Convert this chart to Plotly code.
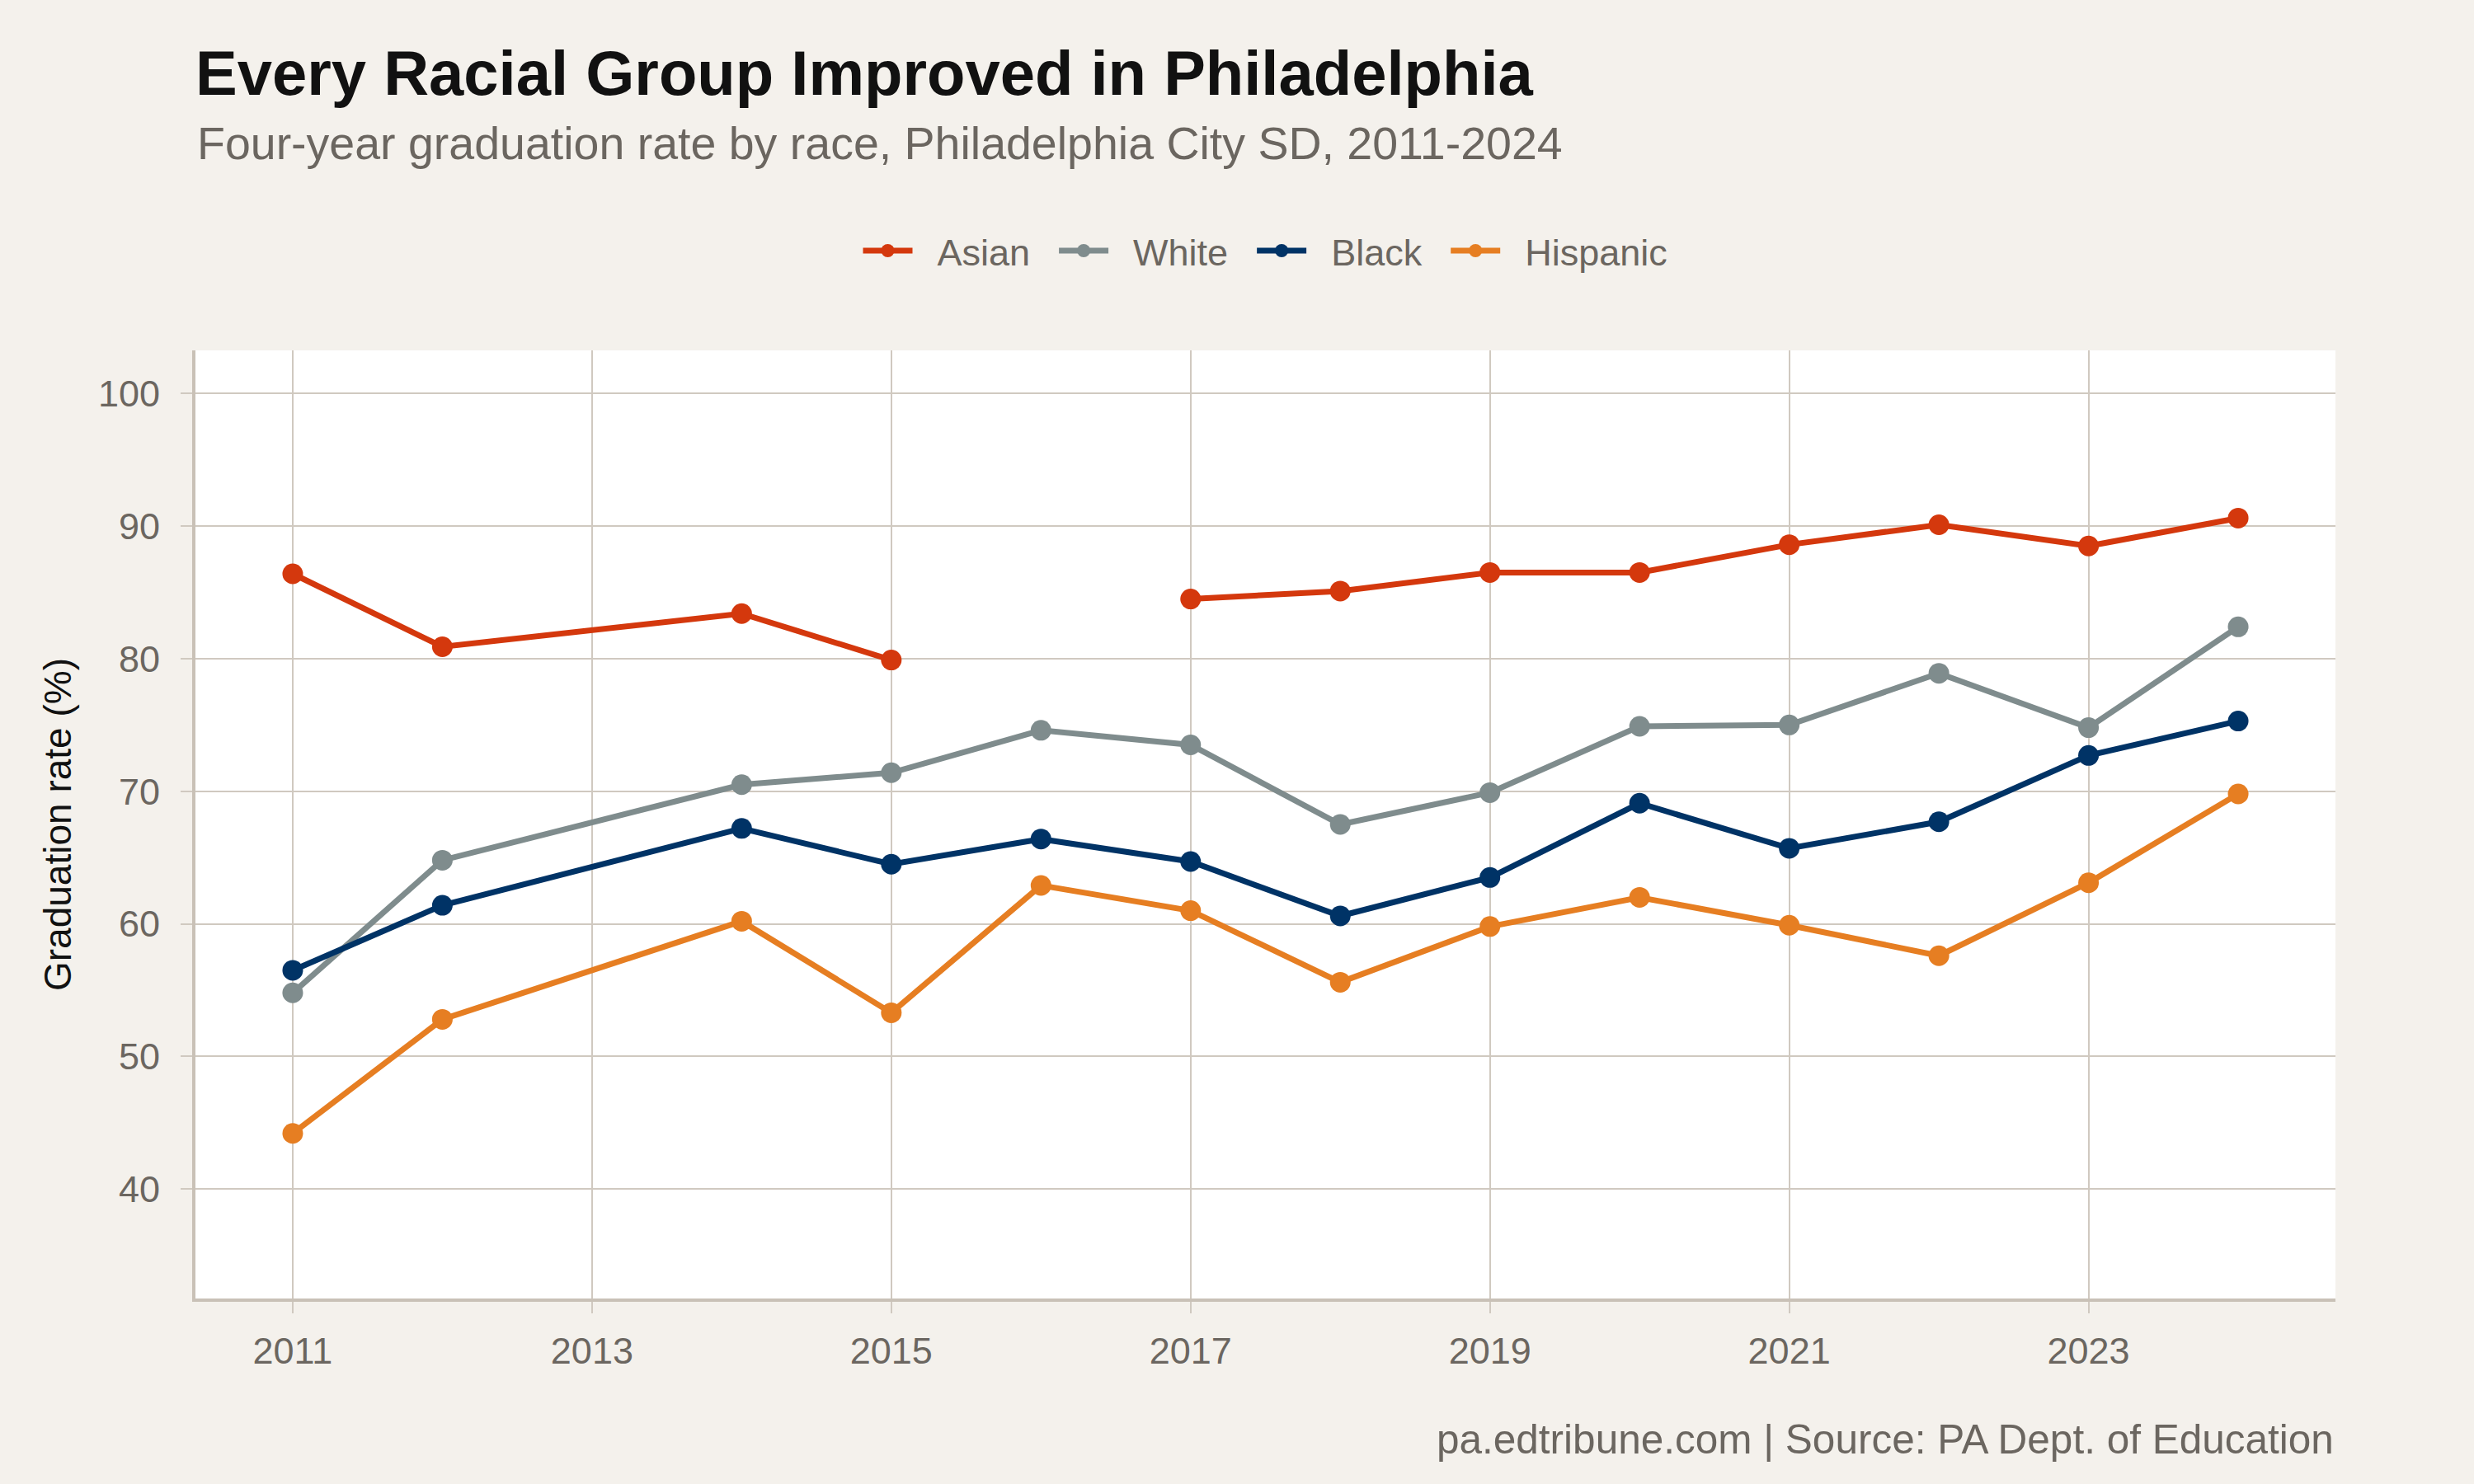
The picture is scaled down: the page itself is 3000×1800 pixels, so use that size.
import plotly.graph_objects as go

years = [2011, 2012, 2014, 2015, 2016, 2017, 2018, 2019, 2020, 2021, 2022, 2023, 2024]
asian = [86.4, 80.9, 83.4, 79.9, None, 84.5, 85.1, 86.5, 86.5, 88.6, 90.1, 88.5, 90.6]
white = [54.8, 64.8, 70.5, 71.4, 74.6, 73.5, 67.5, 69.9, 74.9, 75.0, 78.9, 74.8, 82.4]
black = [56.5, 61.4, 67.2, 64.5, 66.4, 64.7, 60.6, 63.5, 69.1, 65.7, 67.7, 72.7, 75.3]
hispanic = [44.2, 52.8, 60.2, 53.3, 62.9, 61.0, 55.6, 59.8, 62.0, 59.9, 57.6, 63.1, 69.8]

series = [
    ("Asian", asian, "#D4380D"),
    ("White", white, "#7F8C8D"),
    ("Black", black, "#003366"),
    ("Hispanic", hispanic, "#E67E22"),
]

title = "Every Racial Group Improved in Philadelphia"
subtitle = "Four-year graduation rate by race, Philadelphia City SD, 2011-2024"
caption = "pa.edtribune.com | Source: PA Dept. of Education"

FONT = "Liberation Sans, Arial, Helvetica, sans-serif"
BG = "#F4F1EC"
GRID = "#D0C9C0"
GRAY = "#6B6660"

fig = go.Figure()
for i, (name, vals, color) in enumerate(series):
    pad_after = "&nbsp;&nbsp;" if i < len(series) - 1 else ""
    fig.add_trace(go.Scatter(
        x=years, y=vals, name="&nbsp;&nbsp;" + name + pad_after, mode="lines+markers",
        line=dict(color=color, width=7),
        marker=dict(color=color, size=25),
        connectgaps=False,
    ))

fig.update_layout(
    width=3000, height=1800,
    paper_bgcolor=BG, plot_bgcolor="white",
    margin=dict(l=237, r=168, t=425, b=225),
    font=dict(family=FONT, size=45, color=GRAY),
    title=dict(text="<b>" + title + "</b>", x=237/3000, xanchor="left", xref="container",
               y=1 - 88/1800, yanchor="middle", yref="container",
               font=dict(size=76, color="#111111", family=FONT)),
    legend=dict(orientation="h", x=0.5, xanchor="center", y=1.105, yanchor="middle",
                font=dict(size=45, color=GRAY), bgcolor="rgba(0,0,0,0)",
                itemwidth=60, tracegroupgap=0),
    showlegend=True,
    annotations=[
        dict(text=subtitle, x=0, xref="paper", xanchor="left", y=1 + (425 - 174) / 1150, yref="paper",
             yanchor="middle", showarrow=False, font=dict(size=55.5, color=GRAY)),
        dict(text=caption, x=1, xref="paper", xanchor="right", y=-(1745 - 1575) / 1150, yref="paper",
             yanchor="middle", showarrow=False, font=dict(size=49.5, color=GRAY)),
    ],
)

fig.update_xaxes(
    range=[2010.35, 2024.65], tickmode="linear", tick0=2011, dtick=2,
    showgrid=True, gridcolor=GRID, gridwidth=2,
    showline=True, linecolor="#C9C1B7", linewidth=4,
    ticks="outside", ticklen=14, tickwidth=2, tickcolor=GRID,
    tickfont=dict(size=45, color=GRAY), ticklabelstandoff=7,
    zeroline=False,
)
fig.update_yaxes(
    range=[31.75, 103.25], tickmode="array", tickvals=[40, 50, 60, 70, 80, 90, 100],
    showgrid=True, gridcolor=GRID, gridwidth=2,
    showline=True, linecolor="#C9C1B7", linewidth=4,
    ticks="outside", ticklen=14, tickwidth=2, tickcolor=GRID,
    tickfont=dict(size=45, color=GRAY), ticklabelstandoff=16,
    title=dict(text="Graduation rate (%)", font=dict(size=46, color="#111111"), standoff=19),
    zeroline=False, automargin=False,
)

fig.write_html("out.html")
